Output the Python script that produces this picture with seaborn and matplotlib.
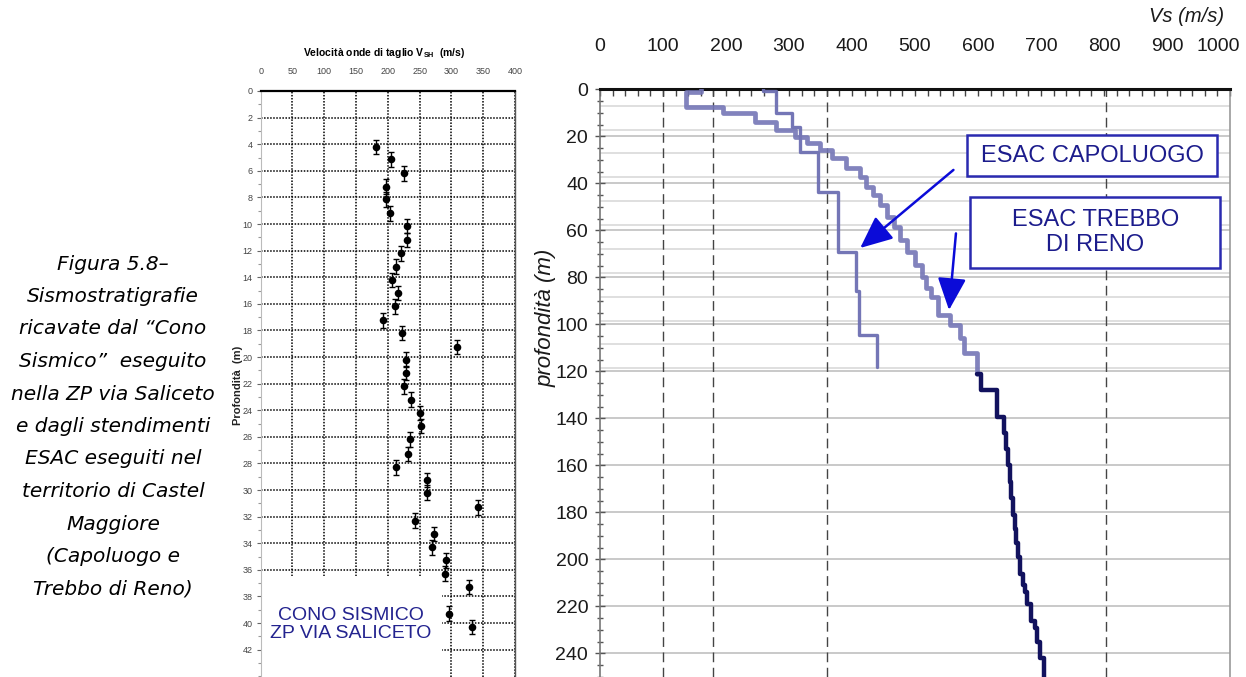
import matplotlib
matplotlib.use('Agg')
import matplotlib.pyplot as plt
import seaborn as sns
from matplotlib.patches import Rectangle
from matplotlib.ticker import MultipleLocator
from matplotlib.transforms import ScaledTranslation

# --- cono sismico (left panel): Vs in m/s vs depth in m
cono_vs = [182, 205, 226, 197, 197, 204, 230, 230, 220, 213, 206, 216, 212, 192,
           222, 308, 229, 228, 225, 237, 251, 252, 235, 231, 213, 261, 261, 342,
           242, 272, 269, 291, 290, 327, 296, 332]
cono_depth = [4.2, 5.15, 6.2, 7.2, 8.15, 9.2, 10.15, 11.2, 12.2, 13.2, 14.2, 15.2,
              16.2, 17.25, 18.2, 19.25, 20.2, 21.2, 22.2, 23.2, 24.2, 25.2, 26.2,
              27.3, 28.3, 29.25, 30.2, 31.3, 32.3, 33.3, 34.3, 35.3, 36.3, 37.3,
              39.3, 40.3]
cono_err = 0.55

# --- ESAC profiles (right panel): layer velocity + depth of layer bottom
capo_vs = [258, 279, 304, 318, 346, 377, 407, 411, 439]
capo_bottom = [0.8, 10.2, 15.9, 26.5, 43.6, 69.1, 86.0, 104.6, 118.0]

trebbo_vs = [161, 137, 196, 246, 280, 309, 328, 349, 368, 391, 413, 423, 434, 444,
             455, 466, 476, 487, 500, 511, 518, 526, 537, 556, 571, 577, 598]
trebbo_bottom = [1.0, 7.4, 10.2, 13.8, 17.3, 20.2, 23.0, 25.8, 29.4, 33.6, 37.2,
                 41.4, 45.0, 49.2, 54.2, 58.4, 64.1, 69.0, 74.7, 79.7, 84.7, 88.5,
                 96.1, 100.3, 106.0, 112.0, 121.0]

trebbo_deep_vs = [604, 630, 641, 645, 648, 651, 653, 656, 659, 661, 664, 667, 671,
                  675, 678, 684, 690, 694, 698, 704]
trebbo_deep_bottom = [128.0, 139.2, 146.0, 153.0, 160.0, 167.0, 174.0, 181.0, 187.0,
                      193.0, 199.0, 206.0, 211.0, 214.0, 219.0, 226.0, 229.0, 235.0,
                      242.0, 250.0]

caption = ("Figura 5.8\u2013\nSismostratigrafie\nricavate dal \u201cCono\n"
           "Sismico\u201d  eseguito\nnella ZP via Saliceto\ne dagli stendimenti\n"
           "ESAC eseguiti nel\nterritorio di Castel\nMaggiore\n(Capoluogo e\n"
           "Trebbo di Reno)")


def step_xy(vs, bottoms, top=0.0):
    xs, ys = [], []
    d0 = top
    for v, d1 in zip(vs, bottoms):
        xs += [v, v]
        ys += [d0, d1]
        d0 = d1
    return xs, ys


sns.set_theme(style='white')
plt.rcParams['font.family'] = ['Liberation Sans', 'DejaVu Sans']
W, H = 1246, 677

fig = plt.figure(figsize=(W / 100, H / 100), dpi=100)

# ---------------- left panel ----------------
ax_l = fig.add_axes([260.7 / W, 0, (515 - 260.7) / W, (H - 91) / H])
ax_l.set_xlim(0, 400)
ax_l.set_ylim(44.06, 0)
ax_l.xaxis.tick_top()
ax_l.set_xticks(range(0, 401, 50))
ax_l.set_yticks(range(0, 43, 2))
ax_l.yaxis.set_minor_locator(MultipleLocator(1))
ax_l.tick_params(axis='x', which='major', length=0, pad=11, labelsize=6.5, labelcolor='#444')
ax_l.tick_params(axis='y', which='major', left=True, length=3, width=0.8, color='#666',
                 pad=3, labelsize=6.5, labelcolor='#444')
ax_l.tick_params(axis='y', which='minor', left=True, length=2, width=0.8, color='#999')
ax_l.grid(True, color='black', linestyle=(0, (1, 1)), linewidth=1.1)
ax_l.spines['bottom'].set_visible(False)
ax_l.spines['top'].set_color('black')
ax_l.spines['top'].set_linewidth(1.6)
ax_l.spines['right'].set_color('#555')
ax_l.spines['right'].set_linewidth(1.0)
ax_l.spines['left'].set_color('#bbb')
ax_l.spines['left'].set_linewidth(0.8)

ax_l.errorbar(cono_vs, cono_depth, yerr=cono_err, fmt='none', ecolor='black',
              elinewidth=1.0, capsize=2.2, capthick=1.0, zorder=3)
sns.scatterplot(x=cono_vs, y=cono_depth, ax=ax_l, color='black', s=30,
                edgecolor='black', linewidth=0, zorder=4)

ax_l.add_patch(Rectangle((0.3, 36.45), 284.4, 8, facecolor='white', edgecolor='none',
                         zorder=2.5))
ax_l.text(142, 40.1, "CONO SISMICO\nZP VIA SALICETO", ha='center', va='center',
          fontsize=14, color='#23238f', linespacing=1.05, zorder=5)

fig.text(384 / W, 1 - 53.3 / H, r'Velocità onde di taglio V$\mathregular{_{SH}}$  (m/s)',
         ha='center', va='center', fontsize=7.5, fontweight='bold', color='black')
fig.text(238 / W, 1 - 385 / H, 'Profondità  (m)', rotation=90, ha='center',
         va='center', fontsize=8, fontweight='bold', color='#222')

# ---------------- caption ----------------
fig.text(113 / W, 1 - 426.5 / H, caption, ha='center', va='center', style='italic',
         fontsize=14.5, linespacing=1.9, family=['DejaVu Sans'], color='black')

# ---------------- right panel ----------------
ax_r = fig.add_axes([600 / W, 0, 630 / W, (H - 89.3) / H])
ax_r.set_xlim(0, 1000)
ax_r.set_ylim(250, 0)
ax_r.xaxis.tick_top()
ax_r.set_xticks(range(0, 1001, 100))
ax_r.xaxis.set_minor_locator(MultipleLocator(20))
ax_r.set_yticks(range(0, 241, 20))
ax_r.yaxis.set_minor_locator(MultipleLocator(5))
ax_r.tick_params(axis='x', which='both', top=True, direction='in', length=5, width=1,
                 color='#444')
ax_r.tick_params(axis='x', which='major', pad=25, labelsize=14, labelcolor='#1a1a1a')
ax_r.tick_params(axis='y', which='both', left=True, direction='inout', width=1,
                 color='#555')
ax_r.tick_params(axis='y', which='major', length=7, pad=5, labelsize=14, labelcolor='#1a1a1a')
ax_r.tick_params(axis='y', which='minor', length=5)
# last top label sits slightly left of its tick, as in the source
last = ax_r.get_xticklabels()[-1]
last.set_transform(last.get_transform() + ScaledTranslation(-0.12, 0, fig.dpi_scale_trans))
ax_r.spines['bottom'].set_visible(False)
ax_r.spines['top'].set_color('#111')
ax_r.spines['top'].set_linewidth(2.2)
ax_r.spines['left'].set_color('#777')
ax_r.spines['left'].set_linewidth(1.2)
ax_r.spines['right'].set_color('#999')
ax_r.spines['right'].set_linewidth(1.2)

for d in range(20, 241, 20):
    ax_r.axhline(d, color='#c9c9c9', lw=1.4, zorder=0)
for d in [7, 17.3, 27.3, 37.3, 47.7, 57.8, 68, 78, 88.3, 98.5, 108.5, 118.5]:
    ax_r.axhline(d, color='#d6d6d6', lw=1.1, zorder=0)
for v in [100, 179, 360, 803]:
    ax_r.axvline(v, color='#444', lw=1.0, dashes=(7, 4), zorder=0.5)

xs, ys = step_xy(capo_vs, capo_bottom)
sns.lineplot(x=xs, y=ys, ax=ax_r, sort=False, estimator=None, color='#6d6fb2',
             lw=2.4, alpha=0.95, zorder=3)
xs, ys = step_xy(trebbo_vs, trebbo_bottom)
sns.lineplot(x=xs, y=ys, ax=ax_r, sort=False, estimator=None, color='#7476b6',
             lw=3.4, alpha=0.9, zorder=3)
xs, ys = step_xy(trebbo_deep_vs, trebbo_deep_bottom, top=trebbo_bottom[-1])
sns.lineplot(x=[trebbo_vs[-1]] + xs, y=[trebbo_bottom[-1]] + ys, ax=ax_r, sort=False,
             estimator=None, color='#12125e', lw=3.2, zorder=3)

# labels boxes
ax_r.add_patch(Rectangle((583, 19.4), 397, 17.5, facecolor='white', edgecolor='#2a2ab0',
                         lw=1.8, zorder=4))
ax_r.text(781, 28.2, 'ESAC CAPOLUOGO', ha='center', va='center', fontsize=17,
          color='#1c1c8c', zorder=5)
ax_r.add_patch(Rectangle((587, 46), 397, 30.2, facecolor='white', edgecolor='#2a2ab0',
                         lw=1.8, zorder=4))
ax_r.text(786, 61, 'ESAC TREBBO\nDI RENO', ha='center', va='center', fontsize=17,
          color='#1c1c8c', linespacing=1.15, zorder=5)

arrow = dict(arrowstyle='-|>,head_length=0.9,head_width=0.4', color='#0b0bd8', lw=1.8,
             mutation_scale=22, shrinkA=0, shrinkB=0)
ax_r.annotate('', xy=(413, 67.5), xytext=(561, 34.3), arrowprops=arrow, zorder=6)
ax_r.annotate('', xy=(554, 93.9), xytext=(565, 61.3), arrowprops=arrow, zorder=6)

ax_r.set_xlabel('')
ax_r.set_ylabel('')
fig.text(1187 / W, 1 - 16 / H, 'Vs (m/s)', ha='center', va='center', fontsize=14.5,
         style='italic', color='#1a1a1a')
fig.text(546 / W, 1 - 318 / H, 'profondità (m)', rotation=90, ha='center', va='center',
         fontsize=16, style='italic', color='#1a1a1a')

fig.savefig('out.png', dpi=100)
